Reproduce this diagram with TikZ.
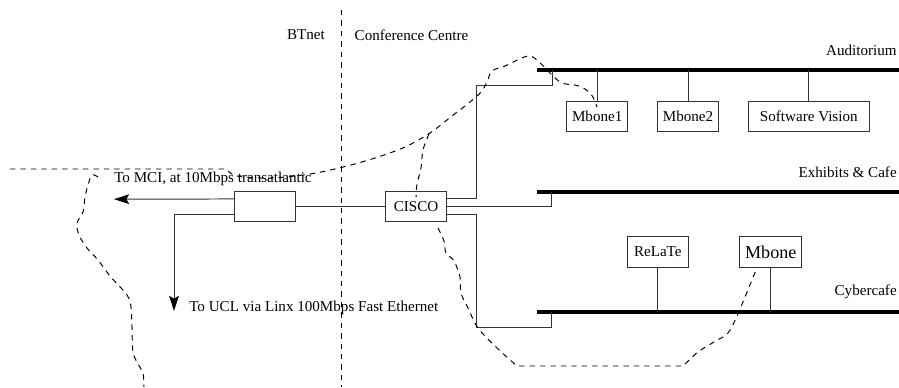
\documentclass[tikz,border=0pt]{standalone}
\usepackage{fontspec}
\setmainfont{Liberation Serif}
\usetikzlibrary{calc,arrows.meta}
\begin{document}
\begin{tikzpicture}[x=0.662pt,y=-0.662pt,
  wire/.style={line width=0.65pt,black!80},
  bus/.style={line width=2.6pt},
  bnd/.style={line width=0.65pt,dash pattern=on 3.6pt off 3.3pt},
  box/.style={draw,line width=0.65pt,black!80,text=black,inner sep=0pt,minimum height=30*0.662pt,font=\fontsize{10}{12}\selectfont},
  lbl/.style={inner sep=0pt,font=\fontsize{10}{12}\selectfont},
  arr/.style={wire,-{Stealth[length=10pt,width=6.4pt,inset=1.8pt,black]}}]
\useasboundingbox (0,0) rectangle (899,387);

% region divider
\coordinate (dvT) at (341,10);
\coordinate (dvB) at (341,387);
\draw[bnd] (dvT) -- (dvB);
\node[lbl] (btnet) at (306,35) {BTnet};
\node[lbl] (conf) at (411.5,35) {Conference Centre};

% buses
\coordinate (audL) at (537,70);   \coordinate (audR) at (899,70);
\coordinate (exL) at (537,191.7); \coordinate (exR) at (899,191.7);
\coordinate (cyL) at (537,312.3); \coordinate (cyR) at (899,312.3);
\draw[bus] (audL) -- (audR);
\draw[bus] (exL) -- (exR);
\draw[bus] (cyL) -- (cyR);
\node[lbl,anchor=east] (aud) at (897,50) {Auditorium};
\node[lbl,anchor=east] (exh) at (897,172.5) {Exhibits \& Cafe};
\node[lbl,anchor=east] (cyb) at (897,291.5) {Cybercafe};

% hosts
\node[box,minimum width=61*0.662pt] (mb1) at (597.2,116) {Mbone1};
\node[box,minimum width=60.6*0.662pt] (mb2) at (688,116) {Mbone2};
\node[box,minimum width=121*0.662pt] (sv) at (808.8,116) {Software Vision};
\node[box,minimum width=61*0.662pt,minimum height=30.6*0.662pt] (relate) at (657.8,252) {ReLaTe};
\node[box,minimum width=61.7*0.662pt,minimum height=30.6*0.662pt,font=\fontsize{12}{14}\selectfont] (mb) at (770.8,252) {Mbone};
\node[box,minimum width=61.7*0.662pt] (cisco) at (416,206.7) {CISCO};
\node[box,minimum width=60.7*0.662pt] (lb) at (264.7,206.7) {};

\draw[wire] (mb1.north) -- (mb1.north |- audL);
\draw[wire] (mb2.north) -- (mb2.north |- audL);
\draw[wire] (sv.north) -- (sv.north |- audL);
\draw[wire] (relate.south) -- (relate.south |- cyL);
\draw[wire] (mb.south) -- (mb.south |- cyL);

% CISCO links
\coordinate (k1) at (476.7,85.7);
\coordinate (k2) at (552.3,70);
\coordinate (k3) at (476.7,327);
\coordinate (exT) at (551.7,191.7);
\coordinate (cyT) at (551.7,312.3);
\draw[wire] ($(cisco.north east)!0.25!(cisco.south east)$) -| (k1) -| (k2);
\draw[wire] (cisco.east) -| (exT);
\draw[wire] ($(cisco.north east)!0.75!(cisco.south east)$) -| (k3) -| (cyT);
\draw[wire] (lb.east) -- (cisco.west);

% outgoing links
\coordinate (mciEnd) at (114,199.2);
\coordinate (uclEnd) at (174,311);
\draw[arr] ($(lb.north west)!0.25!(lb.south west)$) -- (mciEnd);
\draw[arr] ($(lb.north west)!0.75!(lb.south west)$) -| (uclEnd);

% multicast boundaries
\draw[bnd] (10,169) -- plot[smooth,tension=0.55] coordinates {(226,169) (237,176) (270,178) (310,174) (343,167) (375,158) (405,147) (430,133) (452,116) (470,102) (481,92) (487,82) (492,71) (505,66) (528,56) (539,62) (551,74) (562,83) (579,86) (591,94) (597,107)};
\draw[bnd] plot[smooth,tension=0.6] coordinates {(429,134) (423,150) (421,168) (417,184) (416,197)};
\draw[bnd] plot[smooth,tension=0.55] coordinates {(98,177) (92,175) (88,185) (85,197) (83,212) (77,223) (79,235) (87,248) (98,260) (110,276) (127,295) (131,307) (132,327) (133,352) (138,364) (143,373) (144,387)};
\draw[bnd] plot[smooth,tension=0.55] coordinates {(438,228) (444,241) (446,253) (454,261) (460,277) (461,293) (468,308) (478,328) (497,348) (517,366)} -- plot[smooth,tension=0.55] coordinates {(683,366) (698,352) (714,342) (728,333) (737,316) (745,297) (756,270)};

\node[lbl,anchor=west] (mci) at (114,179) {To MCI, at 10Mbps transatlantic};
\node[lbl,anchor=west] (ucl) at (189,308) {To UCL via Linx 100Mbps Fast Ethernet};
\end{tikzpicture}
\end{document}
